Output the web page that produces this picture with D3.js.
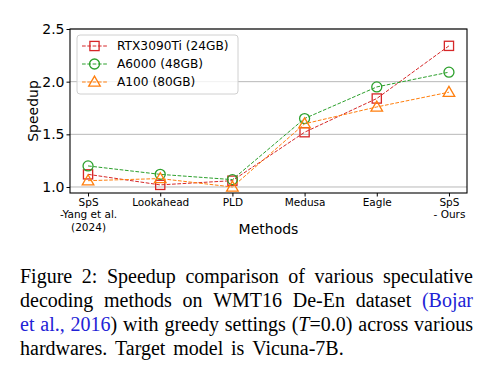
<!DOCTYPE html>
<html><head><meta charset="utf-8">
<script src="https://cdn.jsdelivr.net/npm/d3@7"></script>
<style>html,body{margin:0;padding:0;background:#fff;}svg{display:block;}</style>
</head><body>
<svg id="chart" width="481" height="369"></svg>
<script>
const categories = ["SpS\n-Yang et al.\n(2024)", "Lookahead", "PLD", "Medusa", "Eagle", "SpS\n- Ours"];
const seriesNames = ["RTX3090Ti (24GB)", "A6000 (48GB)", "A100 (80GB)"];
const rtx3090ti = [1.12, 1.02, 1.06, 1.52, 1.84, 2.34];
const a6000 = [1.20, 1.12, 1.07, 1.65, 1.95, 2.09];
const a100 = [1.06, 1.08, 1.00, 1.60, 1.76, 1.90];
const yTicks = [1.0, 1.5, 2.0, 2.5];
const captionLines = [
  [[["Figure", ""]], [["2:", ""]], [["Speedup", ""]], [["comparison", ""]], [["of", ""]], [["various", ""]], [["speculative", ""]]],
  [[["decoding", ""]], [["methods", ""]], [["on", ""]], [["WMT16", ""]], [["De-En", ""]], [["dataset", ""]], [["(Bojar", "b"]]],
  [[["et", "b"]], [["al.,", "b"]], [["2016", "b"], [")", ""]], [["with", ""]], [["greedy", ""]], [["settings", ""]], [["(", ""], ["T", "i"], ["=0.0)", ""]], [["across", ""]], [["various", ""]]],
  [[["hardwares.", ""]], [["Target", ""]], [["model", ""]], [["is", ""]], [["Vicuna-7B.", ""]]]
];

const colors = ["#d62728", "#2ca02c", "#ff7f0e"];
const markers = ["square", "circle", "triangle"];
const series = [rtx3090ti, a6000, a100];

const svg = d3.select("#chart");
const L = 70, R = 467, T = 29, B = 193;
const x = d3.scalePoint().domain(categories).range([L, R]).padding(0.25);
const y = d3.scaleLinear().domain([0.943, 2.5]).range([B, T]);
const font = "DejaVu Sans, sans-serif";

// grid
svg.append("g").selectAll("line").data(yTicks).join("line")
  .attr("x1", L).attr("x2", R).attr("y1", d => y(d)).attr("y2", d => y(d))
  .attr("stroke", "#b0b0b0").attr("stroke-width", 0.9);

// axes
const yAxis = svg.append("g").attr("transform", `translate(${L},0)`)
  .call(d3.axisLeft(y).tickValues(yTicks).tickFormat(d3.format(".1f")).tickSize(3.5).tickPadding(2));
yAxis.select(".domain").remove();
yAxis.selectAll("text").attr("font-family", font).attr("font-size", 14).attr("fill", "#000");
yAxis.selectAll("line").attr("stroke", "#000");

const xAxis = svg.append("g").attr("transform", `translate(0,${B})`)
  .call(d3.axisBottom(x).tickSize(3.5).tickFormat(""));
xAxis.select(".domain").remove();
xAxis.selectAll("line").attr("stroke", "#000");
xAxis.selectAll(".tick").each(function(d) {
  const t = d3.select(this).append("text").attr("fill", "#000").attr("font-family", font)
    .attr("font-size", 10.5).attr("text-anchor", "middle");
  d.split("\n").forEach((s, i) => t.append("tspan").attr("x", 0).attr("y", 13 + i * 12.3).text(s));
});

svg.append("rect").attr("x", L).attr("y", T).attr("width", R - L).attr("height", B - T)
  .attr("fill", "none").attr("stroke", "#000").attr("stroke-width", 1.1);

svg.append("text").attr("x", (L + R) / 2).attr("y", 234).attr("text-anchor", "middle")
  .attr("font-family", font).attr("font-size", 14).text("Methods");
svg.append("text").attr("transform", `translate(38,${(T + B) / 2}) rotate(-90)`).attr("text-anchor", "middle")
  .attr("font-family", font).attr("font-size", 14).text("Speedup");

function marker(g, type, cx, cy, color) {
  if (type === "square") {
    g.append("rect").attr("x", cx - 4.6).attr("y", cy - 4.6).attr("width", 9.2).attr("height", 9.2)
      .attr("fill", "none").attr("stroke", color).attr("stroke-width", 1.3);
  } else if (type === "circle") {
    g.append("circle").attr("cx", cx).attr("cy", cy).attr("r", 5)
      .attr("fill", "none").attr("stroke", color).attr("stroke-width", 1.3);
  } else {
    const s = d3.symbol().type(d3.symbolTriangle).size(58)();
    g.append("path").attr("d", s).attr("transform", `translate(${cx},${cy + 0.8})`)
      .attr("fill", "none").attr("stroke", color).attr("stroke-width", 1.3);
  }
}

const line = d3.line().x((d, i) => x(categories[i])).y(d => y(d));
series.forEach((vals, si) => {
  const g = svg.append("g");
  g.append("path").datum(vals).attr("d", line).attr("fill", "none")
    .attr("stroke", colors[si]).attr("stroke-width", 1).attr("stroke-dasharray", "3.7,1.6");
  vals.forEach((v, i) => marker(g, markers[si], x(categories[i]), y(v), colors[si]));
});

// legend
const lg = svg.append("g");
lg.append("rect").attr("x", 77).attr("y", 35).attr("width", 161).attr("height", 59).attr("rx", 3)
  .attr("fill", "#fff").attr("fill-opacity", 0.8).attr("stroke", "#d0d0d0").attr("stroke-width", 1);
seriesNames.forEach((nm, i) => {
  const yy = 46 + i * 18;
  lg.append("line").attr("x1", 82).attr("x2", 107).attr("y1", yy).attr("y2", yy)
    .attr("stroke", colors[i]).attr("stroke-width", 1).attr("stroke-dasharray", "3.7,1.6");
  marker(lg, markers[i], 94.5, yy, colors[i]);
  lg.append("text").attr("x", 117).attr("y", yy).attr("dy", "0.36em").attr("font-family", font)
    .attr("font-size", 12.2).text(nm);
});

// caption
const capFont = "Liberation Serif, Times New Roman, serif";
const capSize = 20;
const capLeft = 20, capRight = 473;
const baselines = [283, 307, 331, 355];
captionLines.forEach((words, li) => {
  const els = words.map(pieces => {
    const t = svg.append("text").attr("y", baselines[li]).attr("font-family", capFont).attr("font-size", capSize);
    pieces.forEach(([s, st]) => {
      const sp = t.append("tspan").text(s).attr("fill", st === "b" ? "#2222d6" : "#000");
      if (st === "i") sp.attr("font-style", "italic");
    });
    return t;
  });
  const widths = els.map(t => t.node().getComputedTextLength());
  const total = d3.sum(widths);
  const last = li === captionLines.length - 1;
  const gap = last ? 7.8 : (capRight - capLeft - total) / (els.length - 1);
  let cx = capLeft;
  els.forEach((t, i) => { t.attr("x", cx); cx += widths[i] + gap; });
});
</script>
</body></html>
